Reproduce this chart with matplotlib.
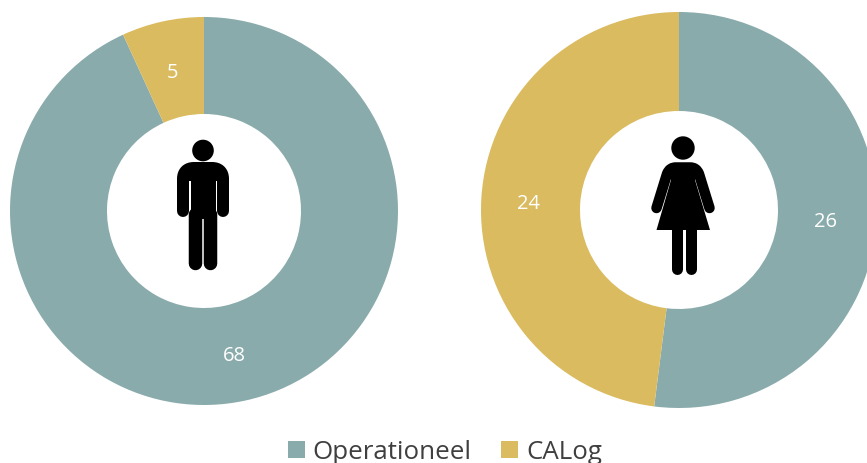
import matplotlib
matplotlib.use("Agg")
import matplotlib.pyplot as plt
from matplotlib.path import Path
from matplotlib.patches import PathPatch, Polygon, Circle, Rectangle

W, H = 867, 464
categories = ["Operationeel", "CALog"]
men_values = [68, 5]
women_values = [26, 24]
colors = ["#8AABAB", "#DBBB60"]
label_color = "white"
legend_text = "#3F3F3F"

plt.rcParams["font.family"] = ["Open Sans", "DejaVu Sans"]
fig = plt.figure(figsize=(W / 100, H / 100), dpi=100, facecolor="white")


def px_axes(cx, cy, r):
    return fig.add_axes([(cx - r) / W, 1 - (cy + r) / H, 2 * r / W, 2 * r / H])


def donut(cx, cy, r, values):
    ax = px_axes(cx, cy, r)
    wedges, _ = ax.pie(values, colors=colors, radius=1, startangle=90, counterclock=False,
                       wedgeprops=dict(width=0.5, linewidth=0), frame=False)
    ax.set_xlim(-1, 1)
    ax.set_ylim(-1, 1)
    return wedges


w_left = donut(204, 212, 194, men_values)
donut(679, 211, 198, women_values)

# overlay in pixel coordinates for icons and data labels
ov = fig.add_axes([0, 0, 1, 1], facecolor="none")
ov.set_xlim(0, W)
ov.set_ylim(H, 0)
ov.axis("off")

for x, y, v in [(234, 356, men_values[0]), (172, 73, men_values[1]),
                (825.5, 222, women_values[0]), (529, 204, women_values[1])]:
    ov.text(x, y, str(v), color=label_color, fontsize=14.5, ha="center", va="center")


def stroke(verts, codes, lw_px):
    ov.add_patch(PathPatch(Path(verts, codes), fill=False, ec="black", lw=lw_px * 0.72,
                           capstyle="round", joinstyle="round"))


M, L, C = Path.MOVETO, Path.LINETO, Path.CURVE4
# man
ov.add_patch(Circle((203, 151.5), 10.8, fc="black", ec="none"))
stroke([(183, 212), (183, 180), (183, 173), (187, 169), (194, 169), (212, 169),
        (219, 169), (223, 173), (223, 180), (223, 212)],
       [M, L, C, C, C, L, C, C, C, L], 12)
ov.add_patch(Rectangle((187, 166), 32, 16, fc="black", ec="none"))
ov.add_patch(Rectangle((191, 166), 24.5, 54, fc="black", ec="none"))
stroke([(195, 215), (195, 263.5)], [M, L], 13.5)
stroke([(210, 215), (210, 263.5)], [M, L], 13.5)

# woman
ov.add_patch(Circle((683, 149), 11.7, fc="black", ec="none"))
stroke([(656.5, 209), (667, 175), (669, 170), (672, 168.5), (676, 168.5), (690, 168.5),
        (694, 168.5), (697, 170), (699, 175), (709.5, 209)],
       [M, L, C, C, C, L, C, C, C, L], 10.5)
ov.add_patch(Polygon([(669, 167), (697, 167), (695, 181), (710, 231), (656.5, 231), (671, 181)],
                     closed=True, fc="black", ec="none"))
stroke([(676.5, 228), (676.5, 270)], [M, L], 11)
stroke([(690.5, 228), (690.5, 270)], [M, L], 11)

leg = fig.legend(w_left, categories, loc="center", bbox_to_anchor=(445 / W, 1 - 453 / H),
                 ncol=2, frameon=False, fontsize=18.6, labelcolor=legend_text,
                 handlelength=0.66, handleheight=0.66, handletextpad=0.3,
                 columnspacing=1.14, borderpad=0, borderaxespad=0)

fig.savefig("out.png", dpi=100, facecolor="white")
